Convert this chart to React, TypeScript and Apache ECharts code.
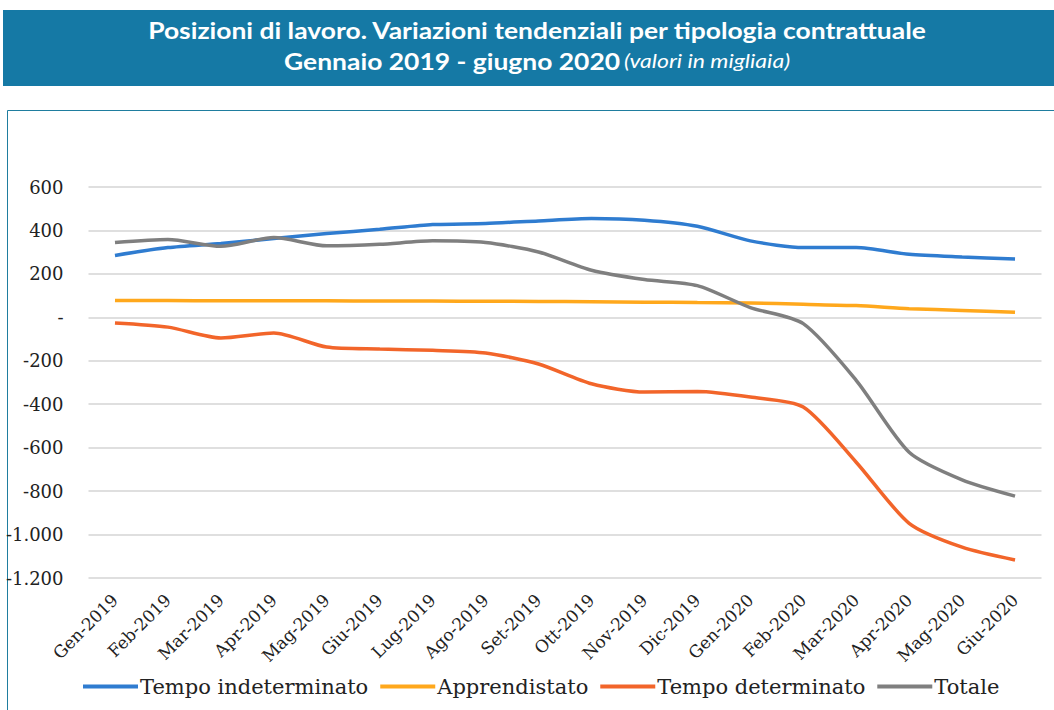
import React, { useEffect, useRef } from "react";
import * as echarts from "echarts";

const months = ["Gen-2019","Feb-2019","Mar-2019","Apr-2019","Mag-2019","Giu-2019","Lug-2019","Ago-2019","Set-2019","Ott-2019","Nov-2019","Dic-2019","Gen-2020","Feb-2020","Mar-2020","Apr-2020","Mag-2020","Giu-2020"];
const indeterminato = [285, 321, 340, 363, 386, 405, 427, 432, 444, 455, 447, 419, 352, 321, 321, 290, 278, 269];
const apprendistato = [78, 77, 76, 76, 76, 75, 75, 74, 73, 72, 70, 68, 66, 60, 54, 40, 32, 23];
const determinato = [-26, -45, -95, -72, -137, -146, -152, -164, -215, -306, -344, -341, -367, -413, -667, -948, -1058, -1117];
const totale = [344, 358, 327, 367, 329, 336, 352, 344, 301, 217, 174, 146, 45, -29, -290, -621, -748, -823];

const seriesNames = ["Tempo indeterminato", "Apprendistato", "Tempo determinato", "Totale"];
const seriesColors = ["#2f7cd0", "#ffa81c", "#f2652a", "#7f7f7f"];

const titleLine1 = "Posizioni di lavoro. Variazioni tendenziali per tipologia contrattuale";
const titleLine2a = "Gennaio 2019 - giugno 2020";
const titleLine2b = "(valori in migliaia)";

function fmt(v: number): string {
  if (v === 0) return "-";
  const neg = v < 0;
  const s = String(Math.abs(v)).replace(/\B(?=(\d{3})+(?!\d))/g, ".");
  return (neg ? "-" : "") + s;
}

export default function App() {
  const ref = useRef<HTMLDivElement>(null);
  useEffect(() => {
    if (!ref.current) return;
    const chart = echarts.init(ref.current, undefined, { renderer: "svg" });
    const data = [indeterminato, apprendistato, determinato, totale];
    chart.setOption({
      animation: false,
      backgroundColor: "#ffffff",
      graphic: [
        { type: "rect", shape: { x: 3, y: 10, width: 1060, height: 76 }, style: { fill: "#1579a5" }, silent: true },
        { type: "text", x: 537, y: 30, scaleX: 1.15, style: { text: titleLine1, fill: "#ffffff", font: "bold 23px Lato", textAlign: "center", textVerticalAlign: "middle" } },
        {
          type: "text", x: 537, y: 61, scaleX: 1.15,
          style: {
            text: "{b|" + titleLine2a + "} {i|" + titleLine2b + "}",
            textAlign: "center", textVerticalAlign: "middle",
            rich: {
              b: { fill: "#ffffff", fontFamily: "Lato", fontWeight: "bold", fontSize: 23 },
              i: { fill: "#ffffff", fontFamily: "Lato", fontStyle: "italic", fontSize: 20 },
            },
          },
        },
        { type: "rect", shape: { x: 7.5, y: 110.5, width: 1070, height: 620 }, style: { fill: "none", stroke: "#1f7d9f", lineWidth: 1 }, silent: true },
      ],
      legend: {
        data: seriesNames,
        left: 78,
        top: 671,
        icon: "rect",
        itemWidth: 55,
        itemHeight: 4,
        itemGap: 12,
        textStyle: { fontFamily: "DejaVu Serif", fontSize: 21, color: "#222222", padding: [0, 0, 0, -3] },
      },
      grid: { left: 88.5, right: 12.5, top: 187, bottom: 132 },
      xAxis: {
        type: "category",
        data: months,
        boundaryGap: true,
        axisLine: { show: false },
        axisTick: { show: false },
        axisLabel: { interval: 0, rotate: 45, fontFamily: "DejaVu Serif", fontSize: 17, color: "#222222", margin: 19 },
      },
      yAxis: {
        type: "value",
        min: -1200,
        max: 600,
        interval: 200,
        axisLine: { show: false },
        axisTick: { show: false },
        splitLine: { lineStyle: { color: "#d4d4d4", width: 1.5 } },
        axisLabel: { formatter: (v: number) => fmt(v), fontFamily: "DejaVu Serif", fontSize: 18, color: "#222222", margin: 25 },
      },
      series: seriesNames.map((name, i) => ({
        name,
        type: "line",
        data: data[i],
        symbol: "none",
        smooth: 0.25,
        lineStyle: { color: seriesColors[i], width: 3.5 },
        itemStyle: { color: seriesColors[i] },
      })),
    });
    return () => chart.dispose();
  }, []);
  return <div ref={ref} style={{ position: "absolute", left: 0, top: 0, width: 1054, height: 710 }} />;
}
